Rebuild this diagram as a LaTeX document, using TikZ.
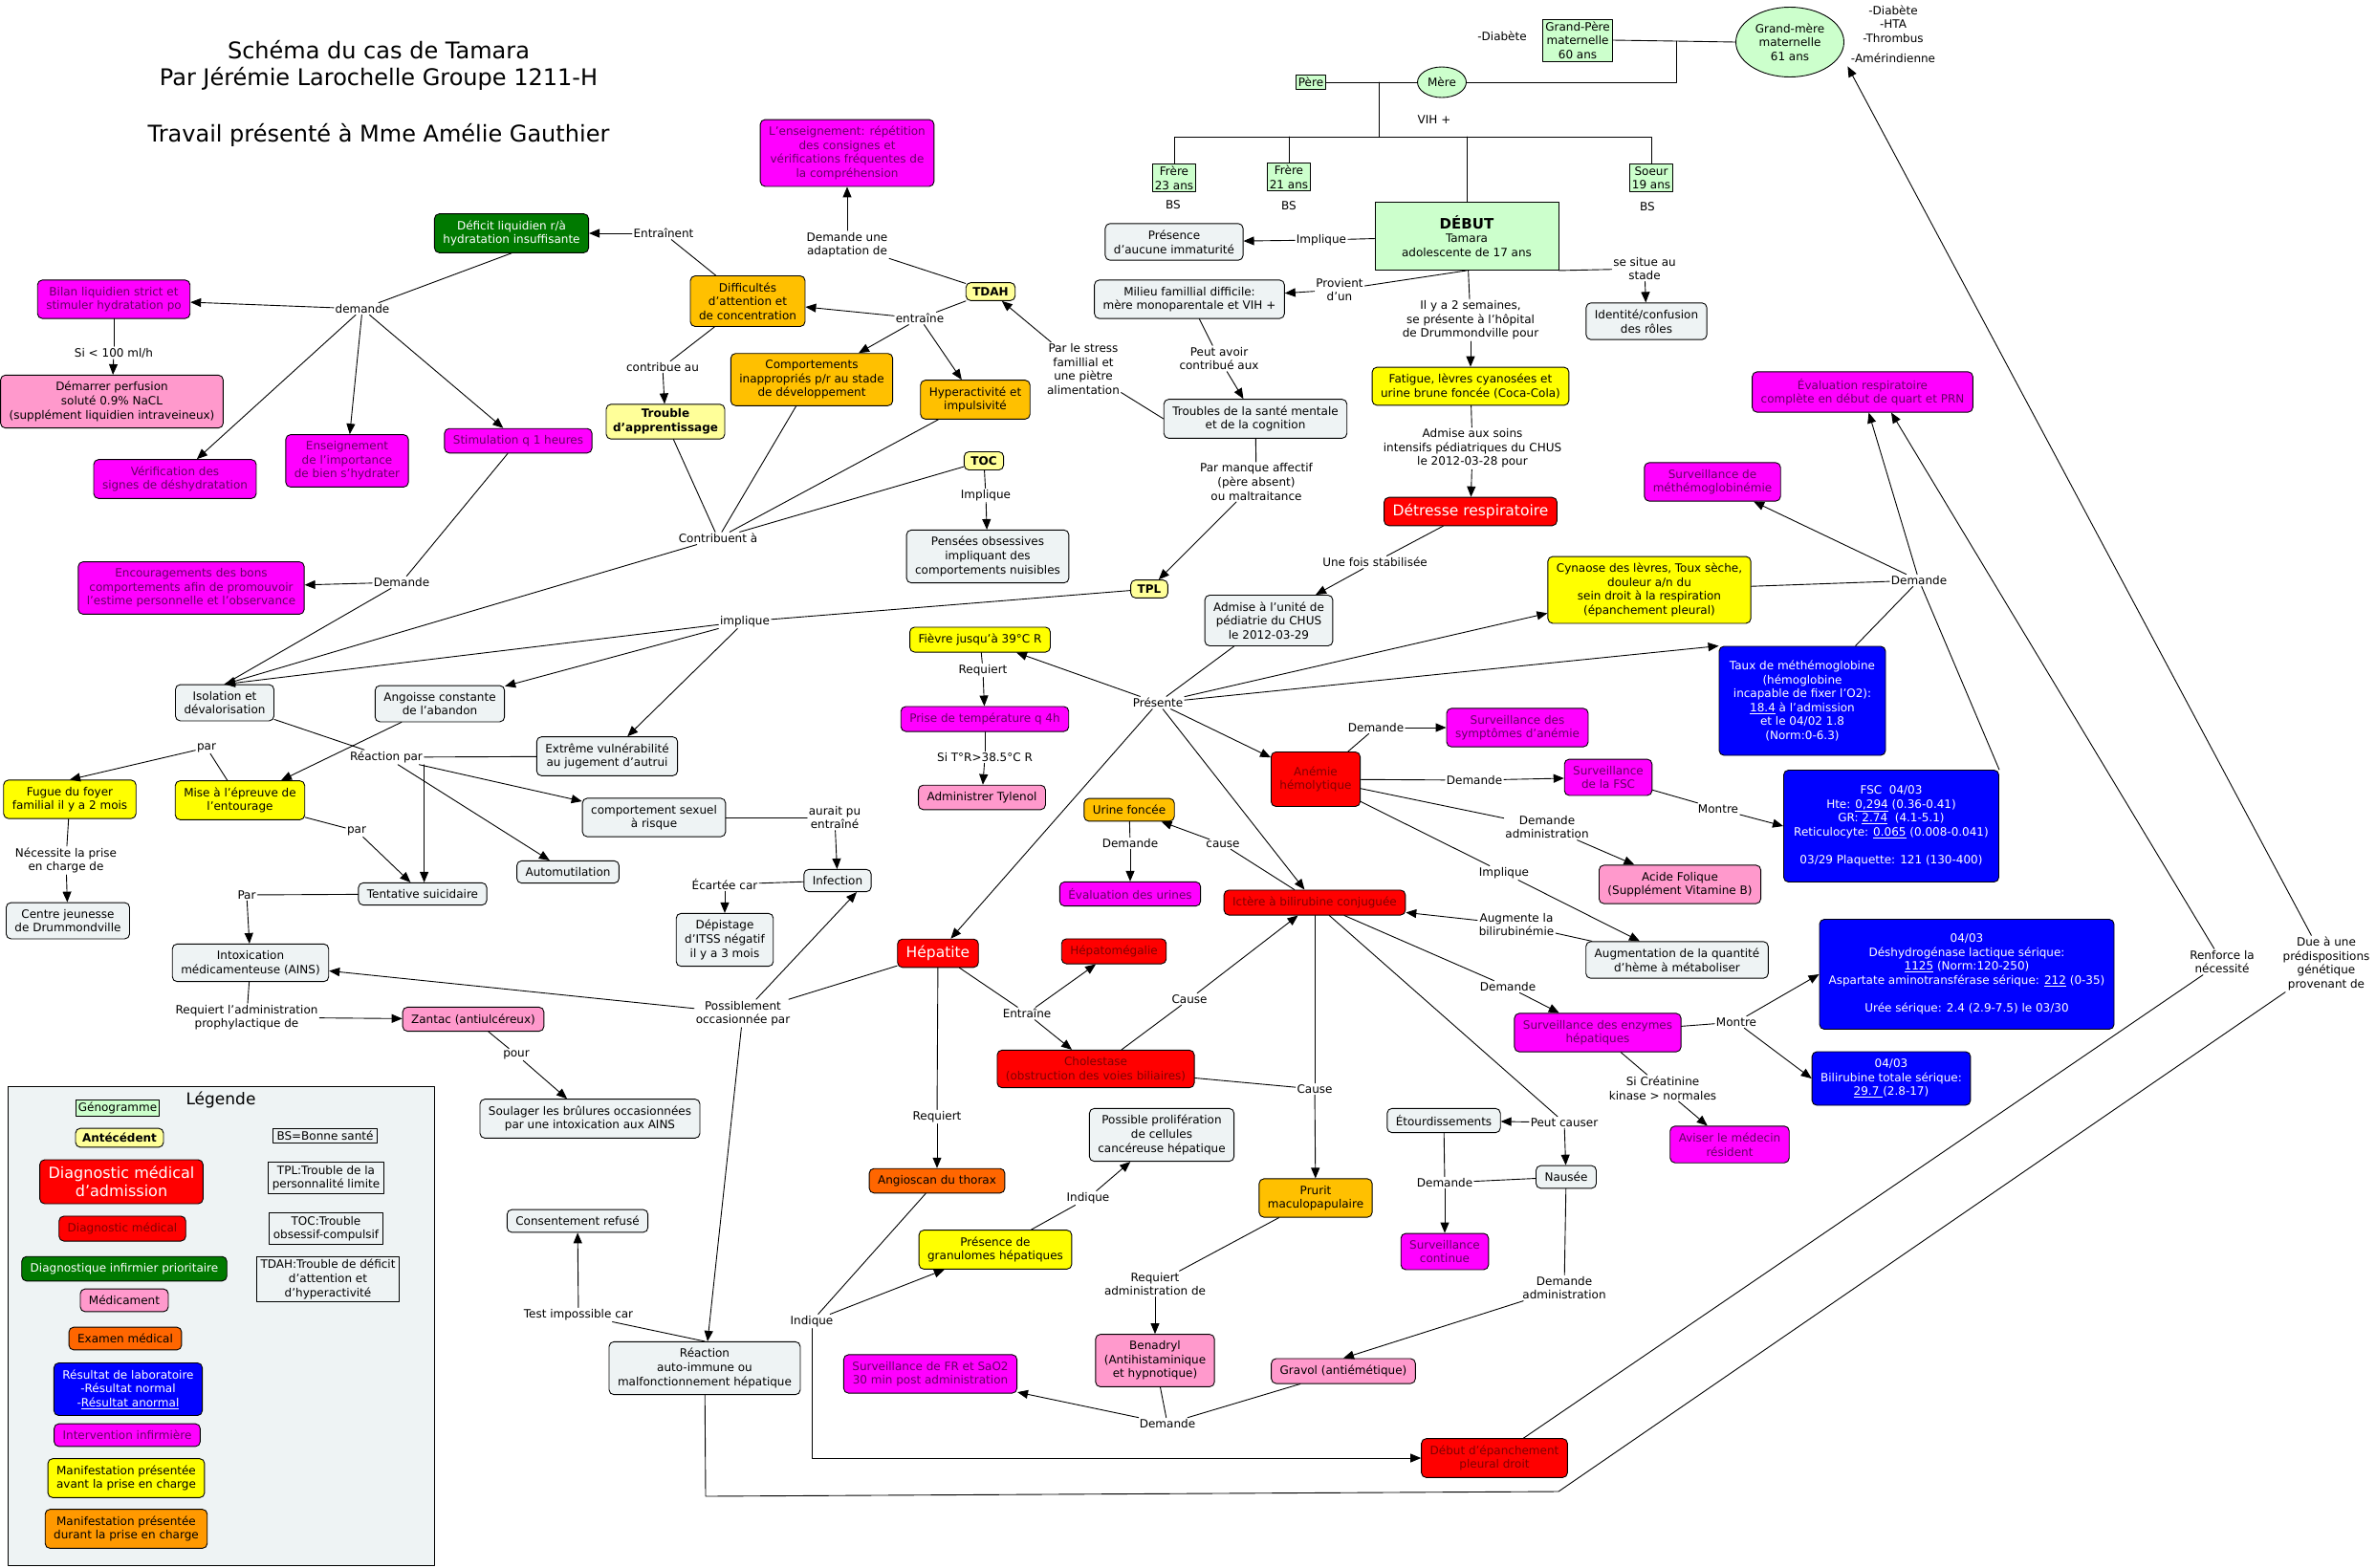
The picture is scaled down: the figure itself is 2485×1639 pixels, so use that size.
\documentclass[tikz,border=0pt]{standalone}
\usepackage{fontspec}
\setmainfont{DejaVu Sans}
\usetikzlibrary{arrows.meta,shapes.geometric}

\definecolor{conceptfill}{HTML}{EEF3F4}
\definecolor{genogreen}{HTML}{CCFFCC}
\definecolor{antecyellow}{HTML}{FFFF99}
\definecolor{manifyellow}{HTML}{FFFF00}
\definecolor{manifgold}{HTML}{FFC000}
\definecolor{maniforange}{HTML}{FF9900}
\definecolor{diagred}{HTML}{FF0000}
\definecolor{diagtext}{HTML}{800000}
\definecolor{infgreen}{HTML}{007A00}
\definecolor{medpink}{HTML}{FF99CC}
\definecolor{examorange}{HTML}{FF6600}
\definecolor{labblue}{HTML}{0000FF}
\definecolor{intmagenta}{HTML}{FF00FF}
\definecolor{inttext}{HTML}{660066}

\newcommand{\cmapfont}{\fontsize{12}{14.6}\selectfont}
\newcommand{\bigcmapfont}{\fontsize{15.5}{19}\selectfont}

\begin{document}
\begin{tikzpicture}[
  x=1pt, y=-1pt, line cap=round, line join=round,
  every node/.style={font=\cmapfont, align=center},
  rel/.style={line width=0.9pt},
  arr/.style={rel, -{Triangle[length=11pt,width=9pt]}},
  link/.style={inner sep=1.5pt},
  box/.style={rectangle, rounded corners=5pt, draw=black, line width=0.9pt,
              inner xsep=9pt, inner ysep=7pt},
  concept/.style={box, fill=conceptfill},
  antec/.style={box, fill=antecyellow, font=\cmapfont\bfseries,
                inner xsep=7pt, inner ysep=5pt},
  manifav/.style={box, fill=manifyellow},
  manifdur/.style={box, fill=manifgold},
  diagadm/.style={box, fill=diagred, text=white, font=\bigcmapfont},
  diagmed/.style={box, fill=diagred, text=diagtext},
  diaginf/.style={box, fill=infgreen, text=white},
  medic/.style={box, fill=medpink},
  exam/.style={box, fill=examorange},
  labres/.style={box, fill=labblue, text=white},
  interv/.style={box, fill=intmagenta, text=inttext},
  genbox/.style={rectangle, draw=black, line width=0.9pt, fill=genogreen, inner sep=2.5pt},
  genell/.style={ellipse, draw=black, line width=0.9pt, fill=genogreen, inner sep=0pt},
  abbrev/.style={rectangle, draw=black, line width=0.9pt, inner xsep=4pt, inner ysep=3pt}
]
\useasboundingbox (0,0) rectangle (2485,1639);

% --- Title --------------------------------------------------------------
\node[font=\fontsize{24}{28}\selectfont] (titre) at (396,68)
  {Schéma du cas de Tamara\\Par Jérémie Larochelle Groupe 1211-H};
\node[font=\fontsize{24}{28}\selectfont] (travail) at (396,141)
  {Travail présenté à Mme Amélie Gauthier};

% --- Genogram -----------------------------------------------------------
\node[genbox] (gpere) at (1650,42) {Grand-Père\\maternelle\\60 ans};
\node[genell, minimum width=113, minimum height=73] (gmere) at (1872,44)
  {Grand-mère\\maternelle\\61 ans};
\node (diabgp) at (1571,38) {-Diabète};
\node (atcdgm) at (1980,25) {-Diabète\\-HTA\\-Thrombus};
\node (amerind) at (1980,61) {-Amérindienne};
\node[genbox] (pere) at (1371,86) {Père};
\node[genell, minimum width=51, minimum height=32] (mere) at (1508,86) {Mère};
\node (vih) at (1500,125) {VIH +};
\node[genbox] (frere23) at (1228,186) {Frère\\23 ans};
\node[genbox] (frere21) at (1348,185) {Frère\\21 ans};
\node[genbox] (soeur) at (1727,186) {Soeur\\19 ans};
\node (bs23) at (1227,214) {BS};
\node (bs21) at (1348,215) {BS};
\node (bs19) at (1723,216) {BS};
\node[genbox, minimum width=192, minimum height=71] (debut) at (1534,247)
  {{\fontsize{15}{18}\selectfont\bfseries DÉBUT}\\Tamara\\adolescente de 17 ans};

\coordinate (jgp) at (1753,43);
\coordinate (jpm) at (1442,86);
\coordinate (jf23) at (1228,143);
\coordinate (js19) at (1727,143);
\draw[rel] (gpere.east) -- (jgp) -- (gmere.west);
\draw[rel] (jgp) |- (mere.east);
\draw[rel] (pere.east) -- (mere.west);
\draw[rel] (jpm) -- (jpm |- jf23);
\draw[rel] (frere23.north) -- (jf23) -- (js19) -- (soeur.north);
\draw[rel] (frere21.north) -- (frere21.north |- jf23);
\draw[rel] (debut.north) -- (debut.north |- jf23);

% --- Concepts -----------------------------------------------------------
\node[concept] (presence) at (1228,253) {Présence\\d'aucune immaturité};
\node[concept] (milieu) at (1244,313) {Milieu famillial difficile:\\mère monoparentale et VIH +};
\node[concept] (identite) at (1722,336) {Identité/confusion\\des rôles};
\node[manifav] (fatigue) at (1538,404) {Fatigue, lèvres cyanosées et\\urine brune foncée (Coca-Cola)};
\node[diagadm] (detresse) at (1538,535) {Détresse respiratoire};
\node[concept] (troubles) at (1313,438) {Troubles de la santé mentale\\et de la cognition};
\node[antec] (tpl) at (1202,616) {TPL};
\node[antec] (toc) at (1029,482) {TOC};
\node[antec] (tdah) at (1036,305) {TDAH};
\node[concept] (pensees) at (1033,582) {Pensées obsessives\\impliquant des\\comportements nuisibles};
\node[interv] (enseign) at (886,160)
  {L'enseignement: répétition\\des consignes et\\vérifications fréquentes de\\la compréhension};
\node[manifdur] (difficultes) at (782,315) {Difficultés\\d'attention et\\de concentration};
\node[manifdur] (comport) at (849,397) {Comportements\\inappropriés p/r au stade\\de développement};
\node[manifdur] (hyper) at (1020,418) {Hyperactivité et\\impulsivité};
\node[antec] (apprent) at (696,441) {Trouble\\d'apprentissage};
\node[diaginf] (deficit) at (535,244) {Déficit liquidien r/à\\hydratation insuffisante};
\node[interv] (bilan) at (119,313) {Bilan liquidien strict et\\stimuler hydratation po};
\node[medic] (perfusion) at (117,420)
  {Démarrer perfusion\\soluté 0.9\% NaCL\\(supplément liquidien intraveineux)};
\node[interv] (verif) at (183,501) {Vérification des\\signes de déshydratation};
\node[interv] (importance) at (363,482) {Enseignement\\de l'importance\\de bien s'hydrater};
\node[interv] (stimul) at (542,461) {Stimulation q 1 heures};
\node[interv] (encourag) at (200,615)
  {Encouragements des bons\\comportements afin de promouvoir\\l'estime personnelle et l'observance};
\node[concept] (isolation) at (235,735) {Isolation et\\dévalorisation};
\node[concept] (angoisse) at (460,736) {Angoisse constante\\de l'abandon};
\node[concept] (extreme) at (635,791) {Extrême vulnérabilité\\au jugement d'autrui};
\node[manifav] (fugue) at (73,836) {Fugue du foyer\\familial il y a 2 mois};
\node[manifav] (epreuve) at (251,837) {Mise à l'épreuve de\\l'entourage};
\node[concept] (centre) at (71,963) {Centre jeunesse\\de Drummondville};
\node[concept] (sexuel) at (684,855) {comportement sexuel\\à risque};
\node[concept] (automut) at (594,912) {Automutilation};
\node[concept] (tentative) at (442,935) {Tentative suicidaire};
\node[concept] (intox) at (262,1007) {Intoxication\\médicamenteuse (AINS)};
\node[medic] (zantac) at (495,1066) {Zantac (antiulcéreux)};
\node[concept] (soulager) at (617,1170)
  {Soulager les brûlures occasionnées\\par une intoxication aux AINS};
\node[concept] (consent) at (604,1277) {Consentement refusé};
\node[concept] (reaction) at (737,1431) {Réaction\\auto-immune ou\\malfonctionnement hépatique};
\node[concept] (infection) at (876,921) {Infection};
\node[concept] (depistage) at (758,983) {Dépistage\\d'ITSS négatif\\il y a 3 mois};
\node[manifav] (fievre) at (1025,669) {Fièvre jusqu'à 39°C R};
\node[interv] (prisetemp) at (1030,752) {Prise de température q 4h};
\node[medic] (tylenol) at (1027,834) {Administrer Tylenol};
\node[concept] (admise) at (1327,649) {Admise à l'unité de\\pédiatrie du CHUS\\le 2012-03-29};
\node[manifdur] (urine) at (1181,847) {Urine foncée};
\node[interv] (evalurine) at (1182,935) {Évaluation des urines};
\node[diagadm] (hepatite) at (981,997) {Hépatite};
\node[diagmed] (hepatomeg) at (1165,995) {Hépatomégalie};
\node[diagmed] (cholestase) at (1146,1118) {Cholestase\\(obstruction des voies biliaires)};
\node[exam] (angioscan) at (980,1235) {Angioscan du thorax};
\node[concept] (prolif) at (1215,1187) {Possible prolifération\\de cellules\\cancéreuse hépatique};
\node[manifav] (granulomes) at (1041,1307) {Présence de\\granulomes hépatiques};
\node[interv] (survfr) at (973,1437) {Surveillance de FR et SaO2\\30 min post administration};
\node[medic] (benadryl) at (1208,1423) {Benadryl\\(Antihistaminique\\et hypnotique)};
\node[medic] (gravol) at (1405,1434) {Gravol (antiémétique)};
\node[manifdur] (prurit) at (1376,1253) {Prurit\\maculopapulaire};
\node[concept] (etourdis) at (1510,1172) {Étourdissements};
\node[concept] (nausee) at (1638,1231) {Nausée};
\node[interv] (survcont) at (1511,1309) {Surveillance\\continue};
\node[diagmed] (epanch) at (1563,1525) {Début d'épanchement\\pleural droit};
\node[diagmed] (ictere) at (1375,944) {Ictère à bilirubine conjuguée};
\node[diagmed, minimum width=90, minimum height=57] (anemie) at (1376,815) {Anémie\\hémolytique};
\node[interv] (survanem) at (1587,761) {Surveillance des\\symptômes d'anémie};
\node[interv] (survfsc) at (1682,813) {Surveillance\\de la FSC};
\node[medic] (acide) at (1757,925) {Acide Folique\\(Supplément Vitamine B)};
\node[concept] (augment) at (1754,1004) {Augmentation de la quantité\\d'hème à métaboliser};
\node[interv] (enzymes) at (1671,1080) {Surveillance des enzymes\\hépatiques};
\node[interv] (aviser) at (1809,1197) {Aviser le médecin\\résident};
\node[manifav] (cynaose) at (1725,617)
  {Cynaose des lèvres, Toux sèche,\\douleur a/n du\\sein droit à la respiration\\(épanchement pleural)};
\node[interv] (survmet) at (1791,504) {Surveillance de\\méthémoglobinémie};
\node[interv] (evalresp) at (1948,410) {Évaluation respiratoire\\complète en début de quart et PRN};

% --- Laboratory results -------------------------------------------------
\node[labres, minimum width=174, minimum height=114] (taux) at (1885,733)
  {Taux de méthémoglobine\\(hémoglobine\\incapable de fixer l'O2):\\\underline{18.4} à l'admission\\et le 04/02 1.8\\(Norm:0-6.3)};
\node[labres, minimum width=225, minimum height=117] (fsc) at (1978,864)
  {FSC\ \ 04/03\\Hte: \underline{0,294} (0.36-0.41)\\GR: \underline{2.74}\ \ (4.1-5.1)\\Reticulocyte: \underline{0.065} (0.008-0.041)\\[14.6pt]03/29 Plaquette: 121 (130-400)};
\node[labres, minimum width=308, minimum height=115] (ldh) at (2057,1019)
  {04/03\\Déshydrogénase lactique sérique:\\\underline{1125} (Norm:120-250)\\Aspartate aminotransférase sérique: \underline{212} (0-35)\\[14.6pt]Urée sérique: 2.4 (2.9-7.5) le 03/30};
\node[labres, minimum width=164, minimum height=56] (bili) at (1978,1128)
  {04/03\\Bilirubine totale sérique:\\\underline{29.7 }(2.8-17)};

% --- Linking phrases ----------------------------------------------------
\node[link] (lEntrainent) at (694,244) {Entraînent};
\node[link] (lDemDef) at (379,323) {demande};
\node[link] (lSi100) at (119,369) {Si < 100 ml/h};
\node[link] (lAdapt) at (886,256) {Demande une\\adaptation de};
\node[link] (lEntraine) at (962,333) {entraîne};
\node[link] (lContribue) at (693,384) {contribue au};
\node[link] (lStress) at (1133,386) {Par le stress\\famillial et\\une piètre\\alimentation};
\node[link] (lImplToc) at (1031,518) {Implique};
\node[link] (lContribuent) at (751,563) {Contribuent à};
\node[link] (lImplTpl) at (779,650) {implique};
\node[link] (lDemEnc) at (420,609) {Demande};
\node[link] (lReacPar) at (404,792) {Réaction par};
\node[link] (lParHaut) at (216,782) {par};
\node[link] (lParBas) at (373,869) {par};
\node[link] (lNecess) at (69,900) {Nécessite la prise\\en charge de};
\node[link] (lPar) at (258,936) {Par};
\node[link] (lRequiertAdm) at (258,1064) {Requiert l'administration\\prophylactique de};
\node[link] (lPour) at (540,1103) {pour};
\node[link] (lTest) at (605,1375) {Test impossible car};
\node[link] (lPossible) at (777,1060) {Possiblement\\occasionnée par};
\node[link] (lAurait) at (873,855) {aurait pu\\entraîné};
\node[link] (lEcartee) at (758,925) {Écartée car};
\node[link] (lImplDebut) at (1382,251) {Implique};
\node[link] (lProvient) at (1401,303) {Provient\\d'un};
\node[link] (lSemaines) at (1538,335) {Il y a 2 semaines,\\se présente à l'hôpital\\de Drummondville pour};
\node[link] (lStade) at (1720,281) {se situe au\\stade};
\node[link] (lSoins) at (1540,469) {Admise aux soins\\intensifs pédiatriques du CHUS\\le 2012-03-28 pour};
\node[link] (lPeutAvoir) at (1275,375) {Peut avoir\\contribué aux};
\node[link] (lManque) at (1314,504) {Par manque affectif\\(père absent)\\ou maltraitance};
\node[link] (lStabil) at (1438,588) {Une fois stabilisée};
\node[link] (lPresente) at (1211,735) {Présente};
\node[link] (lReqFievre) at (1028,701) {Requiert};
\node[link] (lSiTemp) at (1030,792) {Si T°R>38.5°C R};
\node[link] (lDemUrine) at (1182,882) {Demande};
\node[link] (lCause) at (1279,883) {cause};
\node[link] (lEntraineHep) at (1074,1060) {Entraîne};
\node[link] (lReqHep) at (980,1168) {Requiert};
\node[link] (lCauseChol) at (1244,1045) {Cause};
\node[link] (lCausePrurit) at (1375,1139) {Cause};
\node[link] (lIndGran) at (1138,1253) {Indique};
\node[link] (lIndAngio) at (849,1382) {Indique};
\node[link] (lReqBena) at (1208,1343) {Requiert\\administration de};
\node[link] (lDemFR) at (1221,1489) {Demande};
\node[link] (lPeutCauser) at (1636,1174) {Peut causer};
\node[link] (lDemCont) at (1511,1237) {Demande};
\node[link] (lDemGrav) at (1636,1347) {Demande\\administration};
\node[link] (lDemAnem) at (1439,761) {Demande};
\node[link] (lDemFsc) at (1542,816) {Demande};
\node[link] (lMontreFsc) at (1797,846) {Montre};
\node[link] (lDemAcide) at (1618,865) {Demande\\administration};
\node[link] (lImplAnem) at (1573,913) {Implique};
\node[link] (lAugmente) at (1586,967) {Augmente la\\bilirubinémie};
\node[link] (lDemEnz) at (1577,1032) {Demande};
\node[link] (lMontreEnz) at (1816,1069) {Montre};
\node[link] (lSiCreat) at (1739,1138) {Si Créatinine\\kinase > normales};
\node[link] (lDemResp) at (2007,607) {Demande};
\node[link] (lRenforce) at (2324,1006) {Renforce la\\nécessité};
\node[link] (lDue) at (2433,1008) {Due à une\\prédispositions\\génétique\\provenant de};

% --- Connectors: left side ----------------------------------------------
\draw[rel] (difficultes) -- (lEntrainent);
\draw[arr] (lEntrainent) -- (deficit);
\draw[rel] (deficit.south) -- (lDemDef);
\foreach \t in {bilan,verif,importance,stimul}
  \draw[arr] (lDemDef) -- (\t);
\draw[rel] (bilan) -- (lSi100);
\draw[arr] (lSi100) -- (perfusion);
\draw[rel] (tdah) -- (lAdapt);
\draw[arr] (lAdapt) -- (enseign);
\draw[rel] (tdah) -- (lEntraine);
\foreach \t in {difficultes,comport,hyper}
  \draw[arr] (lEntraine) -- (\t);
\draw[rel] (difficultes) -- (lContribue);
\draw[arr] (lContribue) -- (apprent);
\draw[rel] (troubles.west) -- (lStress);
\draw[arr] (lStress) -- (tdah);
\draw[rel] (toc) -- (lImplToc);
\draw[arr] (lImplToc) -- (pensees);
\foreach \s in {apprent,comport,hyper,toc}
  \draw[rel] (\s) -- (lContribuent);
\draw[arr] (lContribuent) -- (isolation.north);
\draw[rel] (tpl) -- (lImplTpl);
\draw[arr] (lImplTpl) -- (isolation.north);
\draw[arr] (lImplTpl) -- (angoisse);
\draw[arr] (lImplTpl) -- (extreme);
\draw[rel] (isolation.north) -- (lDemEnc);
\draw[rel] (stimul) -- (lDemEnc);
\draw[arr] (lDemEnc) -- (encourag);
\draw[rel] (isolation) -- (lReacPar);
\draw[rel] (extreme) -- (lReacPar);
\draw[arr] (lReacPar) -- (sexuel);
\draw[arr] (lReacPar) -- (automut);
\draw[arr] (lReacPar.south east) -- (lReacPar.south east |- tentative.north);
\draw[arr] (angoisse) -- (epreuve);
\draw[rel] (epreuve) -- (lParHaut);
\draw[arr] (lParHaut) -- (fugue.north);
\draw[rel] (epreuve) -- (lParBas);
\draw[arr] (lParBas) -- (tentative);
\draw[rel] (fugue) -- (lNecess);
\draw[arr] (lNecess) -- (centre);
\draw[rel] (tentative) -- (lPar);
\draw[arr] (lPar) -- (intox);
\draw[rel] (intox) -- (lRequiertAdm);
\draw[arr] (lRequiertAdm) -- (zantac);
\draw[rel] (zantac) -- (lPour);
\draw[arr] (lPour) -- (soulager);
\draw[rel] (sexuel) -- (lAurait);
\draw[arr] (lAurait) -- (infection);
\draw[rel] (infection) -- (lEcartee);
\draw[arr] (lEcartee) -- (depistage);
\draw[rel] (hepatite) -- (lPossible);
\draw[arr] (lPossible) -- ([xshift=20pt]infection.south);
\draw[arr] (lPossible) -- (intox);
\draw[arr] (lPossible) -- (reaction);
\draw[rel] (reaction.north) -- (lTest);
\draw[arr] (lTest) -- (consent);

% --- Connectors: centre -------------------------------------------------
\draw[rel] (debut) -- (lImplDebut);
\draw[arr] (lImplDebut) -- (presence);
\draw[rel] (debut.south) -- (lProvient);
\draw[arr] (lProvient) -- (milieu);
\draw[rel] (debut) -- (lSemaines);
\draw[arr] (lSemaines) -- (fatigue);
\draw[rel] (debut.south east) -- (lStade);
\draw[arr] (lStade) -- (identite);
\draw[rel] (milieu) -- (lPeutAvoir);
\draw[arr] (lPeutAvoir) -- (troubles);
\draw[rel] (troubles) -- (lManque);
\draw[arr] (lManque) -- (tpl);
\draw[rel] (fatigue) -- (lSoins);
\draw[arr] (lSoins) -- (detresse);
\draw[rel] (detresse) -- (lStabil);
\draw[arr] (lStabil) -- (admise);
\draw[rel] (admise) -- (lPresente);
\foreach \t in {fievre,hepatite,cynaose,taux.north west,anemie,ictere}
  \draw[arr] (lPresente) -- (\t);
\draw[rel] (fievre) -- (lReqFievre);
\draw[arr] (lReqFievre) -- (prisetemp);
\draw[rel] (prisetemp) -- (lSiTemp);
\draw[arr] (lSiTemp) -- (tylenol);
\draw[rel] (ictere) -- (lCause);
\draw[arr] (lCause) -- (urine);
\draw[rel] (urine) -- (lDemUrine);
\draw[arr] (lDemUrine) -- (evalurine);
\draw[rel] (hepatite) -- (lEntraineHep);
\draw[arr] (lEntraineHep) -- (hepatomeg);
\draw[arr] (lEntraineHep) -- (cholestase);
\draw[rel] (hepatite) -- (lReqHep);
\draw[arr] (lReqHep) -- (angioscan);
\draw[rel] (cholestase) -- (lCauseChol);
\draw[arr] (lCauseChol) -- (ictere);
\draw[rel] (cholestase) -- (lCausePrurit);
\draw[rel] (ictere) -- (lCausePrurit);
\draw[arr] (lCausePrurit) -- (prurit);
\draw[rel] (angioscan) -- (lIndAngio);
\draw[arr] (lIndAngio) -- (granulomes);
\draw[arr] (lIndAngio) |- (epanch);
\draw[rel] (granulomes) -- (lIndGran);
\draw[arr] (lIndGran) -- (prolif);
\draw[rel] (prurit) -- (lReqBena);
\draw[arr] (lReqBena) -- (benadryl);
\draw[rel] (benadryl) -- (lDemFR);
\draw[rel] (gravol) -- (lDemFR);
\draw[arr] (lDemFR) -- (survfr);
\draw[rel] (ictere) -- (lPeutCauser);
\draw[arr] (lPeutCauser) -- (etourdis);
\draw[arr] (lPeutCauser) -- (nausee);
\draw[rel] (etourdis) -- (lDemCont);
\draw[rel] (nausee) -- (lDemCont);
\draw[arr] (lDemCont) -- (survcont);
\draw[rel] (nausee) -- (lDemGrav);
\draw[arr] (lDemGrav) -- (gravol.north);

% --- Connectors: right side ---------------------------------------------
\draw[rel] (anemie) -- (lDemAnem);
\draw[arr] (lDemAnem) -- (survanem);
\draw[rel] (anemie) -- (lDemFsc);
\draw[arr] (lDemFsc) -- (survfsc);
\draw[rel] (survfsc) -- (lMontreFsc);
\draw[arr] (lMontreFsc) -- (fsc.west);
\draw[rel] (anemie) -- (lDemAcide);
\draw[arr] (lDemAcide) -- (acide);
\draw[rel] (anemie) -- (lImplAnem);
\draw[arr] (lImplAnem) -- (augment);
\draw[rel] (augment) -- (lAugmente);
\draw[arr] (lAugmente) -- (ictere);
\draw[rel] (ictere) -- (lDemEnz);
\draw[arr] (lDemEnz) -- (enzymes);
\draw[rel] (enzymes) -- (lMontreEnz);
\draw[arr] (lMontreEnz) -- (ldh.west);
\draw[arr] (lMontreEnz) -- (bili.west);
\draw[rel] (enzymes) -- (lSiCreat);
\draw[arr] (lSiCreat) -- (aviser);
\foreach \s in {cynaose,taux,fsc.north east}
  \draw[rel] (\s) -- (lDemResp);
\draw[arr] (lDemResp) -- (evalresp);
\draw[arr] (lDemResp) -- (survmet);
\draw[rel] (epanch) -- (lRenforce);
\draw[arr] (lRenforce) -- ([xshift=30pt]evalresp.south);
\coordinate (cDue1) at (738,1565);
\coordinate (cDue2) at (1630,1560);
\draw[rel] (reaction) -- (cDue1) -- (cDue2) -- (lDue);
\draw[arr] (lDue) -- (amerind.south west);

% --- Legend -------------------------------------------------------------
\draw[line width=1pt, fill=conceptfill] (8,1136) rectangle (454,1637);
\node[font=\fontsize{17}{20}\selectfont] (legtitre) at (231,1150) {Légende};
\node[genbox] (legGeno) at (123,1159) {Génogramme};
\node[antec] (legAntec) at (125,1190) {Antécédent};
\node[diagadm, font=\fontsize{16}{19}\selectfont] (legAdm) at (127,1236)
  {Diagnostic médical\\d'admission};
\node[diagmed] (legMed) at (128,1285) {Diagnostic médical};
\node[diaginf] (legInf) at (130,1327) {Diagnostique infirmier prioritaire};
\node[medic] (legMedic) at (130,1360) {Médicament};
\node[exam] (legExam) at (131,1400) {Examen médical};
\node[labres] (legLab) at (134,1453)
  {Résultat de laboratoire\\-Résultat normal\\-\underline{Résultat anormal}};
\node[interv] (legInterv) at (133,1501) {Intervention infirmière};
\node[manifav] (legAvant) at (132,1546) {Manifestation présentée\\avant la prise en charge};
\node[box, fill=maniforange] (legDurant) at (132,1599)
  {Manifestation présentée\\durant la prise en charge};
\node[abbrev] (legBS) at (340,1188) {BS=Bonne santé};
\node[abbrev] (legTPL) at (341,1232) {TPL:Trouble de la\\personnalité limite};
\node[abbrev] (legTOC) at (341,1285) {TOC:Trouble\\obsessif-compulsif};
\node[abbrev] (legTDAH) at (343,1338) {TDAH:Trouble de déficit\\d'attention et\\d'hyperactivité};

\end{tikzpicture}
\end{document}
